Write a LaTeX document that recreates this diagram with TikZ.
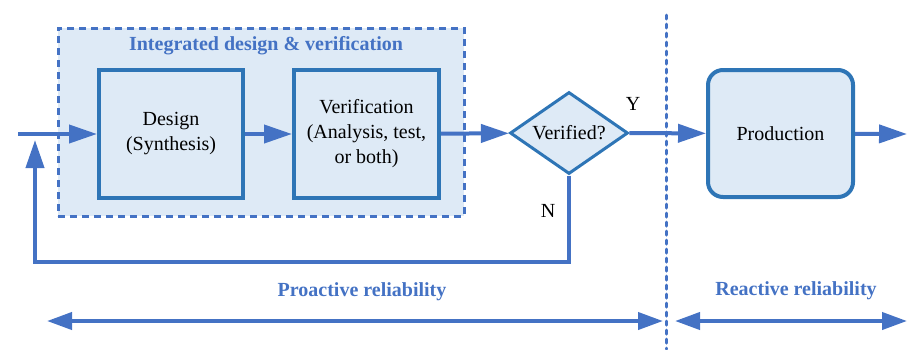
\documentclass[tikz,border=0pt]{standalone}
\usepackage{fontspec}
\setmainfont{Liberation Serif}
\usetikzlibrary{arrows.meta, shapes.geometric, positioning}
\definecolor{lineblue}{RGB}{68,114,196}
\definecolor{boxblue}{RGB}{46,117,182}
\definecolor{boxfill}{RGB}{222,234,246}
\tikzstyle{block}=[rectangle, draw=boxblue, fill=boxfill, line width=2pt, minimum width=72pt, minimum height=64pt, align=center, inner sep=0pt]
\tikzstyle{decision}=[diamond, draw=boxblue, fill=boxfill, line width=1.5pt, minimum width=59pt, minimum height=41pt, aspect=1.44, inner sep=0pt]
\tikzstyle{group}=[rectangle, draw=lineblue, fill=boxfill, line width=1.5pt, dash pattern=on 3.5pt off 2.5pt, minimum width=203pt, minimum height=94pt]
\tikzstyle{heading}=[font=\bfseries\fontsize{10}{12}\selectfont, text=lineblue]
\tikzstyle{flow}=[line width=2pt, draw=lineblue]

\begin{document}
\begin{tikzpicture}[x=0.5pt, y=-0.5pt, font=\fontsize{10}{12.5}\selectfont,
    fwd/.style={-{Triangle[length=14pt, width=9pt]}},
    span/.style={{Triangle[length=12.5pt, width=8.5pt]}-{Triangle[length=12.5pt, width=8.5pt]}}]
    \useasboundingbox (0,0) rectangle (908,349);

    % integrated box and divider
    \node[group]   (grp)      at (261,122)   {};
    \node[heading] (grptitle) at (266,46)    {Integrated design \& verification};
    \draw[lineblue, line width=1.5pt, line cap=round, dash pattern=on 2pt off 2.5pt]
      (666,15) coordinate (divtop) -- (666,349) coordinate (divbot);

    \coordinate (in)   at (18,134);
    \coordinate (out)  at (907,134);
    \coordinate (back) at (35,262);
    \coordinate (join) at (35,140);

    \node[block]                       (des)  at (171,134)   {Design\\(Synthesis)};
    \node[block, minimum width=72.5pt] (ver)  at (366.5,134) {Verification\\(Analysis, test,\\or both)};
    \node[decision]                    (dec)  at (569,133)   {Verified?};
    \node[block, minimum width=72.5pt, minimum height=63.5pt, rounded corners=7.5pt]
                                       (prod) at (780.5,133.5) {Production};

    \node (yes) at (633,104) {Y};
    \node (no)  at (548,211) {N};

    \draw[flow, fwd] (in)   -- (des);
    \draw[flow, fwd] (des)  -- (ver);
    \draw[flow, fwd] (ver)  -- (dec);
    \draw[flow, fwd] (dec)  -- (prod);
    \draw[flow, fwd] (prod) -- (out);
    \draw[flow, fwd] (dec.south) |- (back) -- (join);

    % reliability spans
    \node[heading] (pro) at (362,292) {Proactive reliability};
    \node[heading] (rea) at (796,291) {Reactive reliability};
    \coordinate (pl) at (47,321);
    \coordinate (pr) at (663,321);
    \coordinate (rl) at (675,321);
    \coordinate (rr) at (907,321);
    \draw[flow, span] (pl) -- (pr);
    \draw[flow, span] (rl) -- (rr);
\end{tikzpicture}
\end{document}
